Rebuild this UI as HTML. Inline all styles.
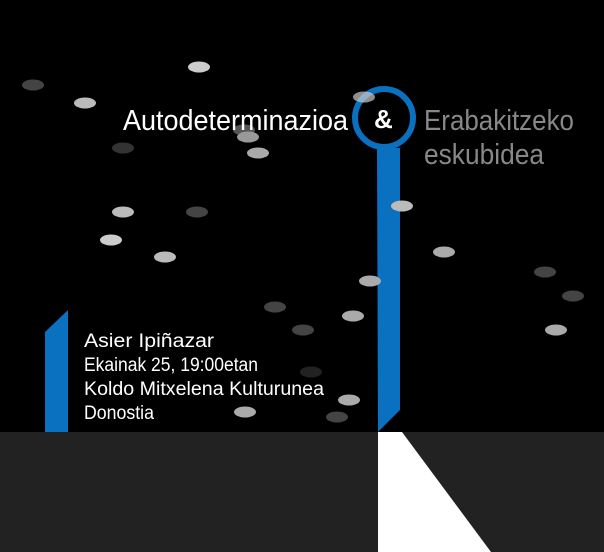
<!DOCTYPE html>
<html><head><meta charset="utf-8"><style>html,body{margin:0;padding:0;background:#000;}svg{display:block}</style></head>
<body>
<svg width="604" height="552" viewBox="0 0 604 552" xmlns="http://www.w3.org/2000/svg" font-family="Liberation Sans, sans-serif">
<rect width="604" height="552" fill="#000"/>
<rect y="432" width="604" height="120" fill="#222"/>
<polygon points="378,432 402,432 491,552 378,552" fill="#fff"/>
<polygon points="377,148 400,148 400,410 378,432" fill="#0a70c0"/>
<polygon points="45,332 68,310 68,432 45,432" fill="#0a70c0"/>
<circle cx="384" cy="118" r="29" fill="none" stroke="#0a70c0" stroke-width="6"/>
<g>
<ellipse cx="33" cy="85" rx="11" ry="5.5" fill="#444"/>
<ellipse cx="199" cy="67" rx="11" ry="5.5" fill="#ccc"/>
<ellipse cx="85" cy="103" rx="11" ry="5.5" fill="#bbb"/>
<ellipse cx="123" cy="148" rx="11" ry="5.5" fill="#333"/>
<ellipse cx="244" cy="130" rx="11" ry="5.5" fill="#555"/>
<ellipse cx="248" cy="137" rx="11" ry="5.5" fill="#999"/>
<ellipse cx="258" cy="153" rx="11" ry="5.5" fill="#aaa"/>
<ellipse cx="364" cy="97" rx="11" ry="5.5" fill="#ccc" opacity="0.7"/>
<ellipse cx="402" cy="206" rx="11" ry="5.5" fill="#bbb"/>
<ellipse cx="123" cy="212" rx="11" ry="5.5" fill="#bbb"/>
<ellipse cx="197" cy="212" rx="11" ry="5.5" fill="#444"/>
<ellipse cx="111" cy="240" rx="11" ry="5.5" fill="#ccc"/>
<ellipse cx="165" cy="257" rx="11" ry="5.5" fill="#bbb"/>
<ellipse cx="444" cy="252" rx="11" ry="5.5" fill="#aaa"/>
<ellipse cx="370" cy="281" rx="11" ry="5.5" fill="#aaa"/>
<ellipse cx="545" cy="272" rx="11" ry="5.5" fill="#444"/>
<ellipse cx="573" cy="296" rx="11" ry="5.5" fill="#444"/>
<ellipse cx="556" cy="330" rx="11" ry="5.5" fill="#aaa"/>
<ellipse cx="275" cy="307" rx="11" ry="5.5" fill="#444"/>
<ellipse cx="303" cy="330" rx="11" ry="5.5" fill="#444"/>
<ellipse cx="353" cy="316" rx="11" ry="5.5" fill="#aaa"/>
<ellipse cx="311" cy="372" rx="11" ry="5.5" fill="#222"/>
<ellipse cx="349" cy="400" rx="11" ry="5.5" fill="#aaa"/>
<ellipse cx="337" cy="417" rx="11" ry="5.5" fill="#444"/>
<ellipse cx="245" cy="412" rx="11" ry="5.5" fill="#aaa"/>
</g>
<text x="123" y="130" font-size="29" fill="#fff" textLength="225" lengthAdjust="spacingAndGlyphs">Autodeterminazioa</text>
<text x="374" y="128" font-size="26" font-weight="bold" fill="#fff">&amp;</text>
<text x="424" y="130" font-size="29" fill="#888" textLength="150" lengthAdjust="spacingAndGlyphs">Erabakitzeko</text>
<text x="424" y="164" font-size="29" fill="#888" textLength="120" lengthAdjust="spacingAndGlyphs">eskubidea</text>
<g font-size="19" fill="#fff">
<text x="84" y="347" textLength="130" lengthAdjust="spacingAndGlyphs">Asier Ipiñazar</text>
<text x="84" y="371" textLength="174" lengthAdjust="spacingAndGlyphs">Ekainak 25, 19:00etan</text>
<text x="84" y="395" textLength="240" lengthAdjust="spacingAndGlyphs">Koldo Mitxelena Kulturunea</text>
<text x="84" y="419" textLength="70" lengthAdjust="spacingAndGlyphs">Donostia</text>
</g>
</svg>
</body></html>
